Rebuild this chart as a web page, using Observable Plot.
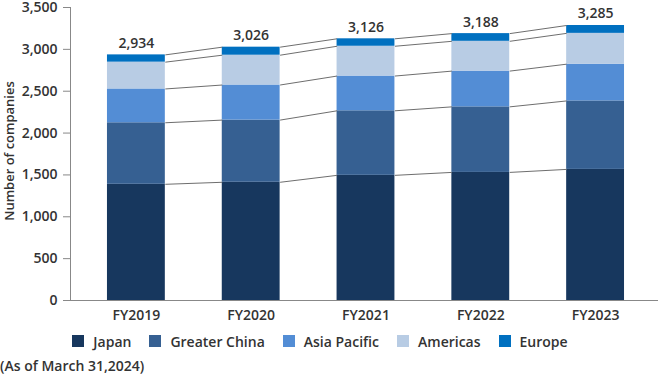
<!DOCTYPE html>
<html>
<head>
<meta charset="utf-8">
<script src="https://cdn.jsdelivr.net/npm/d3@7"></script>
<script src="https://cdn.jsdelivr.net/npm/@observablehq/plot@0.6"></script>
<style>
  html, body { margin: 0; padding: 0; background: #fff; }
  body { width: 660px; height: 375px; overflow: hidden; font-family: "Open Sans", sans-serif; color: #333; }
  #chart svg { display: block; }
  .legend { display: flex; justify-content: center; align-items: center; height: 32px; padding-right: 20px; font-size: 14px; font-weight: 600; }
  .legend .item { display: flex; align-items: center; margin: 0 9px; }
  .legend .sw { width: 12px; height: 12px; margin-right: 9px; }
  .note { font-size: 14px; font-weight: 600; line-height: 18px; margin-top: 0px; }
</style>
</head>
<body>
<div id="chart"></div>
<div class="legend" id="legend"></div>
<div class="note">(As of March 31,2024)</div>
<script>
const years = ["FY2019", "FY2020", "FY2021", "FY2022", "FY2023"];
const regions = ["Japan", "Greater China", "Asia Pacific", "Americas", "Europe"];
const japan = [1388, 1412, 1495, 1530, 1566];
const greaterChina = [735, 743, 771, 783, 818];
const asiaPacific = [404, 419, 415, 427, 439];
const americas = [320, 356, 356, 356, 368];
const europe = [87, 96, 89, 92, 94];
const totals = [2934, 3026, 3126, 3188, 3285];
const colors = ["#17375e", "#366092", "#538dd5", "#b8cce4", "#0070c0"];
const yTicks = [0, 500, 1000, 1500, 2000, 2500, 3000, 3500];

const series = [japan, greaterChina, asiaPacific, americas, europe];
const half = 0.252; // half bar width in band units
const xDomain = [-0.574, 4.548];

// stacked segments
const segs = [];
const tops = years.map(() => []);
years.forEach((yr, i) => {
  let base = 0;
  series.forEach((s, k) => {
    segs.push({i, region: regions[k], y1: base, y2: base + s[i]});
    base += s[i];
    tops[i].push(base);
  });
});
// connector lines between bars
const links = [];
for (let i = 0; i < years.length - 1; i++) {
  for (let k = 0; k < regions.length; k++) {
    links.push({x1: i + half, x2: i + 1 - half, y1: tops[i][k], y2: tops[i + 1][k]});
  }
}
const totalData = years.map((yr, i) => ({i, total: totals[i]}));

const plot = Plot.plot({
  width: 660,
  height: 325,
  marginLeft: 70,
  marginRight: 2,
  marginTop: 7,
  marginBottom: 25,
  style: {fontFamily: "Open Sans, sans-serif", fontSize: "14px", fontWeight: 600, color: "#333", background: "#fff"},
  x: {type: "linear", domain: xDomain},
  y: {domain: [0, 3500]},
  color: {domain: regions, range: colors},
  marks: [
    Plot.rect(segs, {x1: d => d.i - half, x2: d => d.i + half, y1: "y1", y2: "y2", fill: "region"}),
    Plot.link(links, {x1: "x1", x2: "x2", y1: "y1", y2: "y2", stroke: "#6e6e6e", strokeWidth: 1}),
    Plot.text(totalData, {x: "i", y: "total", text: d => d3.format(",")(d.total), dy: -7, lineAnchor: "bottom", fontSize: 14, fontWeight: 600, fill: "#333"}),
    Plot.ruleY([0], {stroke: "#888"}),
    Plot.ruleX([xDomain[0]], {stroke: "#888"}),
    Plot.axisY({ticks: yTicks, tickFormat: d3.format(","), tickSize: 7, tickPadding: 6, stroke: "#888", label: null}),
    Plot.axisX({ticks: years.map((y, i) => i), tickFormat: i => years[i], tickSize: 0, tickPadding: 10, label: null}),
    Plot.text(["Number of companies"], {frameAnchor: "left", textAnchor: "middle", rotate: -90, dx: -61, dy: -3, fontSize: 13, fontWeight: 600, fill: "#333"})
  ]
});
document.getElementById("chart").appendChild(plot);

const legend = document.getElementById("legend");
regions.forEach((r, k) => {
  const item = document.createElement("div");
  item.className = "item";
  const sw = document.createElement("span");
  sw.className = "sw";
  sw.style.background = colors[k];
  const t = document.createElement("span");
  t.textContent = r;
  item.appendChild(sw);
  item.appendChild(t);
  legend.appendChild(item);
});
</script>
</body>
</html>
